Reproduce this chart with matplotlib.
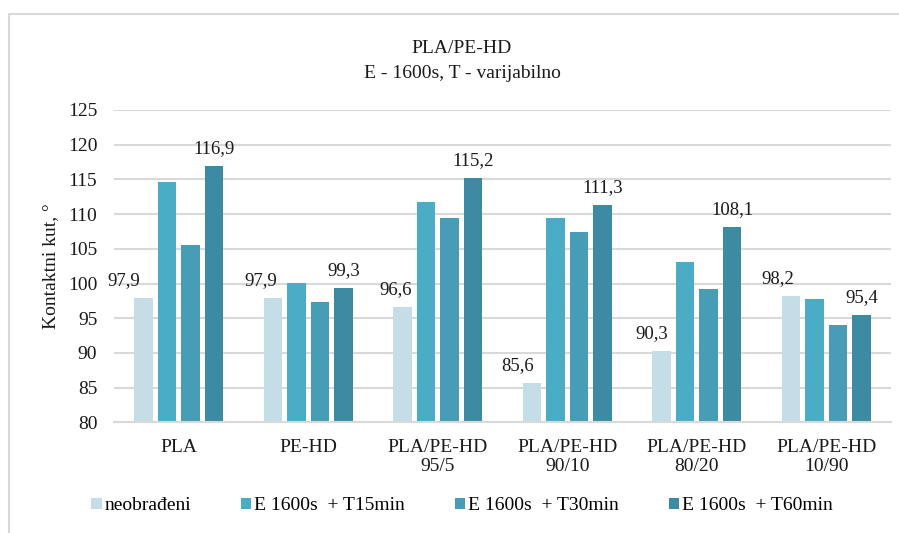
import numpy as np
import matplotlib
matplotlib.use("Agg")
import matplotlib.pyplot as plt
from matplotlib.lines import Line2D

# ── data ─────────────────────────────────────────────────────────────────────

CATEGORIES = ["PLA", "PE-HD", "PLA/PE-HD\n95/5", "PLA/PE-HD\n90/10",
              "PLA/PE-HD\n80/20", "PLA/PE-HD\n10/90"]
SERIES = ["neobrađeni", "E 1600s  + T15min", "E 1600s  + T30min", "E 1600s  + T60min"]
NEOBRADENI = [97.9, 97.9, 96.6, 85.6, 90.3, 98.2]
T15 = [114.6, 100.1, 111.7, 109.4, 103.1, 97.8]
T30 = [105.5, 97.4, 109.4, 107.4, 99.2, 94.0]
T60 = [116.9, 99.3, 115.2, 111.3, 108.1, 95.4]
Y_TICKS = [80, 85, 90, 95, 100, 105, 110, 115, 120, 125]

# ── style ────────────────────────────────────────────────────────────────────

COLORS = ["#c5dde6", "#4bacc6", "#479db5", "#3c8ba2"]
GRID = "#d9d9d9"
INK = "#1a1a1a"
FONT = "Liberation Serif"
W, H = 899, 533

# manual nudges (px) of the "neobrađeni" labels, as in the source
NEO_DX = [-20, -12, -7, -14, -10, -13]

plt.rcParams["font.family"] = [FONT, "DejaVu Serif"]

fig = plt.figure(figsize=(W / 100, H / 100), dpi=100)
ax = fig.add_axes([114 / W, 1 - 422.3 / H, 777 / W, 312.3 / H])

x = np.arange(len(CATEGORIES))
step, width = 0.182, 0.141
all_series = [NEOBRADENI, T15, T30, T60]
bars = []
for i, (vals, col, name) in enumerate(zip(all_series, COLORS, SERIES)):
    b = ax.bar(x + (i - 1.5) * step, vals, width, color=col, label=name,
               bottom=0, zorder=2)
    bars.append(b)

# data labels on first and last series only
for rect, v, dx in zip(bars[0], NEOBRADENI, NEO_DX):
    ax.annotate(f"{v:.1f}".replace(".", ","),
                (rect.get_x() + rect.get_width() / 2, v),
                xytext=(dx, 13), textcoords="offset pixels",
                ha="center", va="baseline", fontsize=13.5, color=INK)
for rect, v in zip(bars[3], T60):
    ax.annotate(f"{v:.1f}".replace(".", ","),
                (rect.get_x() + rect.get_width() / 2, v),
                xytext=(0, 13), textcoords="offset pixels",
                ha="center", va="baseline", fontsize=13.5, color=INK)

ax.set_xlim(-0.5, len(CATEGORIES) - 0.5)
ax.set_ylim(80, 125)
ax.set_yticks(Y_TICKS)
ax.set_xticks(x)
ax.set_xticklabels(CATEGORIES, fontsize=14, color=INK, linespacing=1.15)
ax.tick_params(axis="y", length=0, pad=12, labelsize=14, labelcolor=INK)
ax.tick_params(axis="x", length=0, pad=12)
ax.yaxis.grid(True, color=GRID, linewidth=1.5)
ax.set_axisbelow(True)
for side in ("top", "right", "left"):
    ax.spines[side].set_visible(False)
ax.spines["bottom"].set_color(GRID)
ax.spines["bottom"].set_linewidth(1.5)

ax.set_ylabel("Kontaktni kut, °", fontsize=14, color=INK)
ax.yaxis.set_label_coords((59 - 114) / 777, 0.5)

fig.text(462 / W, 1 - 53.3 / H, "PLA/PE-HD", ha="center", va="baseline",
         fontsize=14, color=INK)
fig.text(462 / W, 1 - 78.3 / H, "E - 1600s, T - varijabilno", ha="center",
         va="baseline", fontsize=14, color=INK)

fig.legend(loc="center", bbox_to_anchor=(462 / W, 1 - 506 / H), ncol=4,
           frameon=False, fontsize=14, handlelength=0.55, handleheight=0.55,
           handletextpad=0.15, columnspacing=2.55, borderaxespad=0)

# outer chart border (only top and left visible in the crop)
fig.add_artist(Line2D([9 / W, 9 / W, 1.0], [0.0, 1 - 14 / H, 1 - 14 / H],
                      transform=fig.transFigure, color=GRID, linewidth=1.5))

fig.savefig("out.png", dpi=100, facecolor="white")
